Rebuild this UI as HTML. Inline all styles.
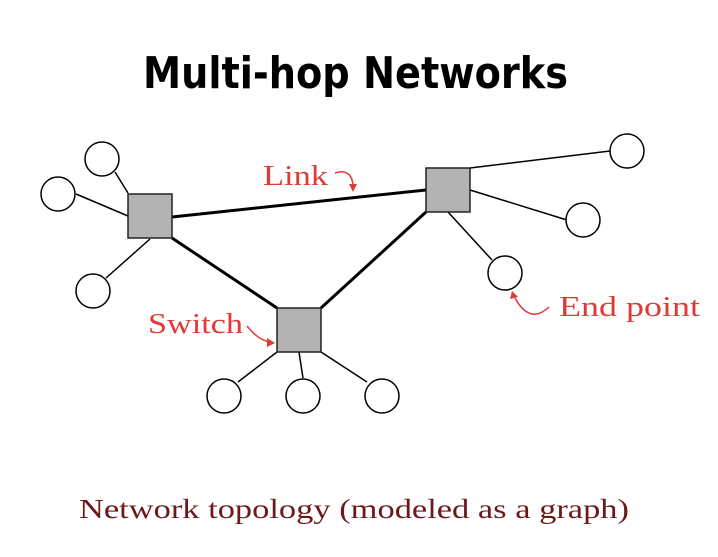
<!DOCTYPE html>
<html><head><style>html,body{margin:0;padding:0;background:#fff}</style></head>
<body>
<svg width="718" height="552" viewBox="0 0 718 552" xmlns="http://www.w3.org/2000/svg">
<text x="143" y="88" font-family="DejaVu Sans, sans-serif" font-weight="bold" font-size="44" textLength="425" lengthAdjust="spacingAndGlyphs" fill="#000">Multi-hop Networks</text>
<g stroke="#000" stroke-width="1.5">
<line x1="128" y1="193" x2="115" y2="172"/>
<line x1="128" y1="216" x2="76" y2="194"/>
<line x1="150" y1="239" x2="106" y2="278"/>
<line x1="277" y1="352" x2="238" y2="382"/>
<line x1="299" y1="352" x2="303" y2="378"/>
<line x1="321" y1="352" x2="367" y2="382"/>
<line x1="470" y1="168" x2="610" y2="151"/>
<line x1="470" y1="190" x2="567" y2="220"/>
<line x1="448" y1="212" x2="492" y2="260"/>
</g>
<g stroke="#000" stroke-width="3">
<line x1="172" y1="217" x2="426" y2="190"/>
<line x1="172" y1="238" x2="277" y2="308"/>
<line x1="321" y1="308" x2="426" y2="212"/>
</g>
<g fill="#b3b3b3" stroke="#222" stroke-width="1.5">
<rect x="128" y="194" width="44" height="44"/>
<rect x="277" y="308" width="44" height="44"/>
<rect x="426" y="168" width="44" height="44"/>
</g>
<g fill="#fff" stroke="#000" stroke-width="1.5">
<circle cx="102" cy="159" r="17"/>
<circle cx="58" cy="194" r="17"/>
<circle cx="93" cy="291" r="17"/>
<circle cx="224" cy="396" r="17"/>
<circle cx="303" cy="396" r="17"/>
<circle cx="382" cy="396" r="17"/>
<circle cx="627" cy="151" r="17"/>
<circle cx="583" cy="220" r="17"/>
<circle cx="505" cy="273" r="17"/>
</g>
<g font-family="Liberation Serif, serif" font-size="28" fill="#e03a35" lengthAdjust="spacingAndGlyphs">
<text x="263" y="185" textLength="65" lengthAdjust="spacingAndGlyphs">Link</text>
<text x="148" y="333" textLength="95" lengthAdjust="spacingAndGlyphs">Switch</text>
<text x="559" y="316" textLength="141" lengthAdjust="spacingAndGlyphs">End point</text>
</g>
<g fill="none" stroke="#e03a35" stroke-width="1.5">
<path d="M335 173 Q352 168 353 186"/>
<path d="M247 326 Q258 340 270 342"/>
<path d="M549 307 Q530 325 515 298"/>
</g>
<g fill="#e03a35">
<path d="M349 184 L357 184 L353 192 Z"/>
<path d="M267 338 L275 343 L267 347 Z"/>
<path d="M510 299 L518 297 L512 291 Z"/>
</g>
<text x="354" y="518" text-anchor="middle" font-family="Liberation Serif, serif" font-size="27" fill="#6b1a1a" textLength="550" lengthAdjust="spacingAndGlyphs">Network topology (modeled as a graph)</text>
</svg>
</body></html>
